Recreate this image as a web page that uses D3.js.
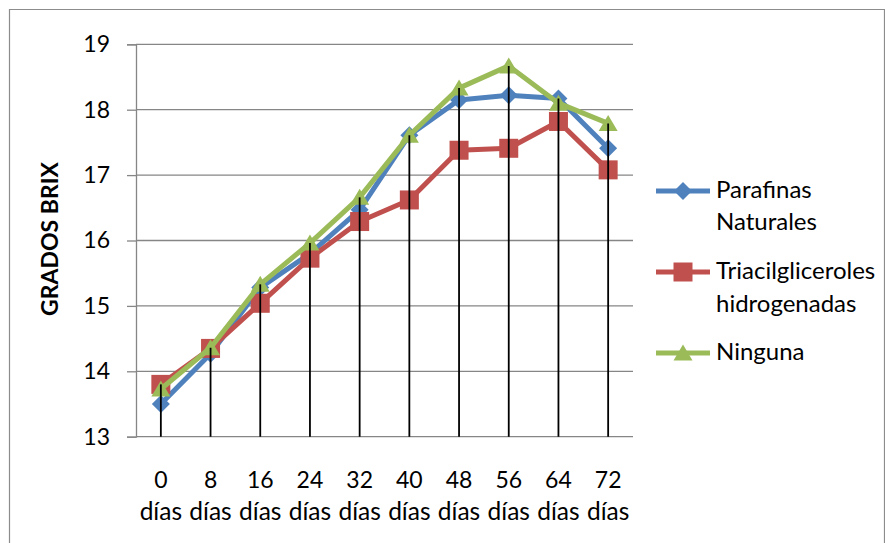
<!DOCTYPE html>
<html>
<head>
<meta charset="utf-8">
<script src="https://cdn.jsdelivr.net/npm/d3@7"></script>
<style>
  html, body { margin: 0; padding: 0; background: #fff; }
  svg { display: block; font-family: Lato, "Open Sans", sans-serif; }
</style>
</head>
<body>
<svg id="chart" width="885" height="543"></svg>
<script>
// Categories (days of storage)
const categories = ["0", "8", "16", "24", "32", "40", "48", "56", "64", "72"];
const categoryUnit = "días";

// Series values (°Brix)
const parafinas = [13.5, 14.27, 15.28, 15.8, 16.47, 17.61, 18.15, 18.22, 18.17, 17.41];
const triacil   = [13.8, 14.35, 15.04, 15.73, 16.29, 16.62, 17.38, 17.41, 17.82, 17.08];
const ninguna   = [13.73, 14.36, 15.33, 15.96, 16.66, 17.61, 18.33, 18.67, 18.1, 17.79];

// Y-axis ticks
const yTicks = [13, 14, 15, 16, 17, 18, 19];

const seriesNames = [["Parafinas", "Naturales"], ["Triacilgliceroles", "hidrogenadas"], ["Ninguna"]];
const seriesColors = ["#4F81BD", "#C0504D", "#9BBB59"];
const seriesMarkers = ["diamond", "square", "triangle"];
const seriesValues = [parafinas, triacil, ninguna];

const svg = d3.select("#chart");

// Outer chart frame
svg.append("path")
  .attr("d", "M9.5,543 V9.5 H884.5 V543")
  .attr("fill", "none").attr("stroke", "#8c8c8c").attr("stroke-width", 1.2);

const plotLeft = 136, plotRight = 633, plotTop = 44.3, plotBottom = 436.7;

const x = d3.scaleBand().domain(categories).range([plotLeft, plotRight]).padding(0);
const cx = c => x(c) + x.bandwidth() / 2;
const y = d3.scaleLinear().domain([13, 19]).range([plotBottom, plotTop]);

// Horizontal gridlines and y ticks
const yAxis = d3.axisLeft(y).tickValues(yTicks).tickSize(9).tickPadding(17).tickFormat(d3.format("d"));
const gy = svg.append("g").attr("transform", `translate(${plotLeft},0)`).call(yAxis);
gy.select(".domain").attr("stroke", "#868686").attr("stroke-width", 1.3);
gy.selectAll(".tick line").attr("stroke", "#868686").attr("stroke-width", 1.3);
gy.selectAll(".tick text").attr("font-size", 23).attr("fill", "#000").attr("font-family", "Lato");

svg.append("g").selectAll("line").data(yTicks).join("line")
  .attr("x1", plotLeft).attr("x2", plotRight)
  .attr("y1", d => y(d)).attr("y2", d => y(d))
  .attr("stroke", "#868686").attr("stroke-width", 1.3);

// Category labels (two lines)
const xl = svg.append("g");
xl.selectAll("text.num").data(categories).join("text")
  .attr("class", "num")
  .attr("x", d => cx(d)).attr("y", 488)
  .attr("text-anchor", "middle").attr("font-size", 23).text(d => d);
xl.selectAll("text.unit").data(categories).join("text")
  .attr("class", "unit")
  .attr("x", d => cx(d)).attr("y", 520)
  .attr("text-anchor", "middle").attr("font-size", 24.5).text(categoryUnit);

// Y-axis title
svg.append("text")
  .attr("transform", `translate(58,239) rotate(-90)`)
  .attr("text-anchor", "middle").attr("font-size", 23).attr("font-weight", "bold")
  .text("GRADOS BRIX");

function marker(sel, type, color) {
  if (type === "diamond") {
    sel.append("path").attr("d", "M0,-9 L9,0 L0,9 L-9,0 Z").attr("fill", color);
  } else if (type === "square") {
    sel.append("rect").attr("x", -9.5).attr("y", -9.5).attr("width", 19).attr("height", 19).attr("fill", color);
  } else {
    sel.append("path").attr("d", "M0,-8.5 L9.5,7.5 L-9.5,7.5 Z").attr("fill", color);
  }
}

// Series lines and markers
const line = d3.line().x((d, i) => cx(categories[i])).y(d => y(d));
seriesValues.forEach((vals, s) => {
  const g = svg.append("g");
  g.append("path").datum(vals).attr("d", line)
    .attr("fill", "none").attr("stroke", seriesColors[s]).attr("stroke-width", 5)
    .attr("stroke-linejoin", "round");
  vals.forEach((v, i) => {
    const m = g.append("g").attr("transform", `translate(${cx(categories[i])},${y(v)})`);
    marker(m, seriesMarkers[s], seriesColors[s]);
  });
});

// Drop lines from the highest point of each category to the axis
svg.append("g").selectAll("line").data(categories).join("line")
  .attr("x1", d => cx(d)).attr("x2", d => cx(d))
  .attr("y1", (d, i) => y(d3.max(seriesValues, vals => vals[i])))
  .attr("y2", plotBottom)
  .attr("stroke", "#000").attr("stroke-width", 1.8);

// Legend
const legendRows = [[198, 230], [279, 312], [360]];
seriesNames.forEach((lines, s) => {
  const g = svg.append("g");
  const sy = legendRows[s][0] - 7;
  g.append("line").attr("x1", 656).attr("x2", 710).attr("y1", sy).attr("y2", sy)
    .attr("stroke", seriesColors[s]).attr("stroke-width", 5);
  const m = g.append("g").attr("transform", `translate(683,${sy})`);
  marker(m, seriesMarkers[s], seriesColors[s]);
  lines.forEach((t, k) => {
    g.append("text").attr("x", 716).attr("y", legendRows[s][k])
      .attr("font-size", 24).text(t);
  });
});
</script>
</body>
</html>
